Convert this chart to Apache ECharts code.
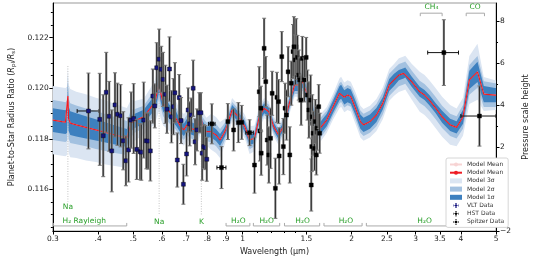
<!DOCTYPE html>
<html><head><meta charset="utf-8">
<script src="https://cdn.jsdelivr.net/npm/echarts@6.0.0/dist/echarts.min.js"></script>
<style>html,body{margin:0;padding:0;background:#fff}#c{width:538px;height:261px}</style>
</head><body><div id="c"></div>
<script>
// ---------- data ----------
const tickValues = [0.3,0.4,0.5,0.6,0.7,0.8,0.9,1,1.5,2,2.5,3,3.5,4,5];
const tickLabels = ['0.3','.4','.5','.6','.7','.8','.9','1','1.5','2','2.5','3','3.5','4','5'];
const minorTickValues = [1.1,1.2,1.3,1.4];
const ratioTicks = [0.116,0.118,0.120,0.122];
const ratioMinorTicks = [0.1145,0.115,0.1155,0.1165,0.117,0.1175,0.1185,0.119,0.1195,0.1205,0.121,0.1215,0.1225,0.123];
const scaleTicks = [-2,0,2,4,6,8];
const scaleMinorTicks = [-1,1,3,5,7];

const modelWave = [0.300,0.318,0.325,0.3285,0.330,0.3315,0.335,0.348,0.370,0.394,
0.419,0.445,0.480,0.493,0.503,0.534,0.557,0.574,0.586,0.589,
0.594,0.604,0.629,0.655,0.675,0.689,0.703,0.718,0.740,0.756,
0.765,0.768,0.774,0.795,0.820,0.845,0.867,0.889,0.898,0.936,
0.974,1.015,1.046,1.079,1.112,1.147,1.182,1.219,1.257,1.296,
1.350,1.392,1.435,1.464,1.510,1.573,1.638,1.706,1.777,1.850,
1.870,1.908,1.948,1.988,2.049,2.113,2.156,2.246,2.340,2.436,
2.538,2.617,2.698,2.781,2.810,2.926,3.080,3.176,3.274,3.409,
3.551,3.736,3.892,4.054,4.221,4.444,4.626,4.968,5.000];
const modelMean = [0.11874,0.11868,0.11866,0.11872,0.11969,0.11880,0.11862,0.11855,0.11845,0.11835,
0.11825,0.11815,0.11803,0.11861,0.11870,0.11887,0.11921,0.11947,0.12006,0.12026,
0.11986,0.11940,0.11907,0.11881,0.11848,0.11835,0.11855,0.11842,0.11835,0.11855,
0.11894,0.11902,0.11848,0.11828,0.11828,0.11815,0.11795,0.11822,0.11835,0.11914,
0.11887,0.11848,0.11795,0.11802,0.11887,0.11921,0.11907,0.11848,0.11815,0.11848,
0.11947,0.12013,0.12013,0.12026,0.11973,0.11887,0.11842,0.11874,0.11927,0.11980,
0.11986,0.11964,0.11973,0.11967,0.11921,0.11868,0.11855,0.11868,0.11894,0.11940,
0.12013,0.12033,0.12052,0.12059,0.12062,0.12026,0.11986,0.11973,0.11953,0.11921,
0.11887,0.11855,0.11845,0.11887,0.12033,0.12065,0.11977,0.11973,0.11973];
const model1Sigma = [0.00047,0.00047,0.00047,0.00048,0.00055,0.00048,0.00047,0.00046,0.00044,0.00042,
0.00040,0.00038,0.00036,0.00032,0.00028,0.00028,0.00028,0.00032,0.00036,0.00040,
0.00036,0.00032,0.00028,0.00028,0.00024,0.00024,0.00024,0.00024,0.00024,0.00024,
0.00028,0.00028,0.00024,0.00020,0.00024,0.00024,0.00024,0.00020,0.00020,0.00020,
0.00020,0.00020,0.00020,0.00020,0.00020,0.00020,0.00016,0.00016,0.00016,0.00016,
0.00020,0.00024,0.00024,0.00024,0.00024,0.00024,0.00024,0.00024,0.00024,0.00028,
0.00028,0.00028,0.00028,0.00028,0.00028,0.00028,0.00028,0.00028,0.00028,0.00024,
0.00024,0.00024,0.00020,0.00020,0.00020,0.00020,0.00020,0.00020,0.00020,0.00020,
0.00024,0.00024,0.00024,0.00028,0.00036,0.00040,0.00032,0.00028,0.00028];
const model2Sigma = [0.00079,0.00079,0.00079,0.00080,0.00087,0.00080,0.00079,0.00077,0.00075,0.00075,
0.00073,0.00071,0.00067,0.00055,0.00047,0.00044,0.00047,0.00051,0.00059,0.00067,
0.00059,0.00051,0.00047,0.00044,0.00040,0.00040,0.00040,0.00040,0.00040,0.00040,
0.00047,0.00047,0.00040,0.00036,0.00044,0.00044,0.00044,0.00036,0.00032,0.00032,
0.00032,0.00032,0.00036,0.00032,0.00032,0.00028,0.00028,0.00028,0.00028,0.00028,
0.00032,0.00036,0.00036,0.00036,0.00036,0.00036,0.00040,0.00036,0.00036,0.00040,
0.00040,0.00040,0.00040,0.00040,0.00044,0.00044,0.00044,0.00044,0.00044,0.00044,
0.00044,0.00044,0.00044,0.00044,0.00044,0.00044,0.00044,0.00044,0.00044,0.00044,
0.00044,0.00044,0.00044,0.00047,0.00059,0.00063,0.00051,0.00047,0.00047];
const model3Sigma = [0.00135,0.00135,0.00135,0.00135,0.00119,0.00135,0.00135,0.00131,0.00131,0.00127,
0.00127,0.00123,0.00119,0.00095,0.00079,0.00071,0.00079,0.00087,0.00103,0.00119,
0.00103,0.00087,0.00075,0.00067,0.00063,0.00063,0.00059,0.00059,0.00059,0.00063,
0.00075,0.00079,0.00063,0.00055,0.00071,0.00071,0.00071,0.00055,0.00047,0.00047,
0.00047,0.00047,0.00055,0.00051,0.00044,0.00040,0.00040,0.00040,0.00040,0.00040,
0.00044,0.00047,0.00047,0.00047,0.00047,0.00051,0.00055,0.00051,0.00051,0.00059,
0.00059,0.00059,0.00059,0.00059,0.00063,0.00063,0.00063,0.00063,0.00063,0.00063,
0.00063,0.00063,0.00067,0.00067,0.00067,0.00071,0.00079,0.00079,0.00079,0.00079,
0.00079,0.00079,0.00075,0.00075,0.00095,0.00111,0.00067,0.00059,0.00059];

const vltWave = [0.376,0.404,0.413,0.421,0.429,0.436,0.445,0.452,0.461,0.469,
0.477,0.485,0.493,0.501,0.511,0.522,0.526,0.534,0.543,0.549,
0.557,0.566,0.573,0.580,0.589,0.597,0.604,0.613,0.619,0.629,
0.637,0.645,0.651,0.661,0.669,0.677,0.687,0.701,0.708,0.715,
0.722,0.731,0.740,0.749,0.760,0.768,0.774,0.782,0.790,0.797];
const vltRatio = [0.11910,0.11877,0.11812,0.11984,0.11889,0.11752,0.11934,0.11897,0.11891,0.11792,
0.11713,0.11756,0.11874,0.11880,0.11758,0.11749,0.11747,0.11874,0.11792,0.11791,
0.11752,0.11969,0.11930,0.12081,0.12115,0.12075,0.12035,0.11976,0.11917,0.12076,
0.11887,0.11927,0.11982,0.11716,0.11963,0.11872,0.11620,0.11740,0.11914,0.11859,
0.11894,0.12000,0.11788,0.11835,0.11903,0.11903,0.11743,0.11769,0.11765,0.11719];
const vltErr = [0.00150,0.00182,0.00162,0.00158,0.00138,0.00162,0.00127,0.00123,0.00123,0.00115,
0.00099,0.00127,0.00111,0.00138,0.00119,0.00111,0.00111,0.00150,0.00111,0.00111,
0.00119,0.00107,0.00087,0.00099,0.00119,0.00091,0.00107,0.00115,0.00095,0.00127,
0.00103,0.00111,0.00119,0.00107,0.00091,0.00091,0.00079,0.00087,0.00087,0.00087,
0.00067,0.00111,0.00091,0.00083,0.00079,0.00079,0.00107,0.00087,0.00087,0.00087];
const vltWaveErr = [0.026,0,0,0,0,0,0,0,0,0, 0,0,0,0,0,0,0,0,0,0, 0,0,0,0,0,0,0,0,0,0,
0,0,0,0,0,0,0,0,0,0, 0,0,0,0,0,0,0,0,0,0];

const hstWave = [0.823,0.875,0.911,0.945,0.974,0.995,1.046,1.079,1.112,1.117,
1.124,1.126,1.147,1.159,1.170,1.182,1.195,1.207,1.232,1.244,
1.257,1.262,1.283,1.296,1.310,1.322,1.336,1.350,1.363,1.378,
1.386,1.399,1.406,1.418,1.429,1.438,1.451,1.462,1.480,1.498,
1.510,1.524,1.541,1.547,1.552,1.557,1.566,1.579,1.588,1.598,
1.605,1.622,1.632];
const hstRatio = [0.11859,0.11686,0.11868,0.11835,0.11864,0.11865,0.11824,0.11696,0.11986,0.11831,
0.11921,0.11743,0.12158,0.12026,0.11795,0.11736,0.11802,0.11980,0.11604,0.11964,
0.11947,0.11732,0.12125,0.11769,0.11921,0.11894,0.12065,0.11736,0.12020,0.12145,
0.12164,0.12112,0.12164,0.12122,0.12052,0.12033,0.11953,0.12118,0.12033,0.12122,
0.11973,0.11914,0.11953,0.11617,0.11769,0.11887,0.11822,0.11762,0.11868,0.11736,
0.11842,0.11927,0.11822];
const hstErr = [0.00079,0.00083,0.00071,0.00083,0.00079,0.00067,0.00051,0.00111,0.00099,0.00119,
0.00087,0.00087,0.00119,0.00099,0.00099,0.00111,0.00119,0.00087,0.00119,0.00099,
0.00087,0.00111,0.00099,0.00111,0.00099,0.00099,0.00099,0.00111,0.00087,0.00107,
0.00119,0.00099,0.00111,0.00087,0.00099,0.00087,0.00099,0.00087,0.00087,0.00079,
0.00099,0.00111,0.00099,0.00103,0.00099,0.00087,0.00087,0.00087,0.00087,0.00079,
0.00087,0.00087,0.00079];
const hstWaveErr = [0.017,0.025,0,0,0,0,0.025,0,0,0, 0,0,0,0,0,0,0,0,0,0, 0,0,0,0,0,0,0,0,0,0,
0,0,0,0,0,0,0,0,0,0, 0,0,0,0,0,0,0,0,0,0, 0,0,0];

const spitzerWave = [3.59, 4.50];
const spitzerRatio = [0.12141, 0.11890];
const spitzerErr = [0.00130, 0.00119];
const spitzerWaveErr = [0.35, 0.50];

const lineFeatures = [ {label:'Na', wave:0.330}, {label:'Na', wave:0.589}, {label:'K', wave:0.770} ];
const bottomBands = [
  {label:'H\u2082 Rayleigh', from:0.300, to:0.481, at:0.366},
  {label:'H\u2082O', from:0.898, to:1.051, at:0.974},
  {label:'H\u2082O', from:1.068, to:1.270, at:1.166},
  {label:'H\u2082O', from:1.301, to:1.637, at:1.464},
  {label:'H\u2082O', from:1.672, to:2.143, at:1.928},
  {label:'H\u2082O', from:2.188, to:4.590, at:3.176}
];
const topBands = [
  {label:'CH\u2084', from:3.091, to:3.551, at:3.32},
  {label:'CO', from:4.137, to:4.646, at:4.38}
];

// ---------- chart ----------
const L = Math.log10;
const FONT = 'DejaVu Sans';
const GREEN = '#2ca02c';
const chart = echarts.init(document.getElementById('c'), null, {renderer:'canvas'});

function bandSeries(name, sig, color) {
  return {
    type:'custom', name, z:1, silent:true, clip:true,
    itemStyle:{color},
    data:[[L(modelWave[0]), modelMean[0]]],
    encode:{x:0,y:1},
    renderItem(params, api){
      const pts=[];
      for (let i=0;i<modelWave.length;i++) pts.push(api.coord([L(modelWave[i]), modelMean[i]+sig[i]]));
      for (let i=modelWave.length-1;i>=0;i--) pts.push(api.coord([L(modelWave[i]), modelMean[i]-sig[i]]));
      return {type:'polygon', shape:{points:pts}, style:{fill:color}};
    }
  };
}

function seg(x1,y1,x2,y2,stroke,w,dash){
  return {type:'line', shape:{x1,y1,x2,y2}, style:{stroke, lineWidth:w, lineDash:dash||null}};
}

function errSeries(name, waves, ratios, errs, werrs, color, barGray) {
  return {
    type:'custom', name, z:5, clip:true, silent:true,
    itemStyle:{color},
    data: waves.map((w,i)=>[L(w), ratios[i], errs[i], L(w-werrs[i]), L(w+werrs[i])]),
    encode:{x:0,y:1},
    renderItem(params, api){
      const x=api.value(0), y=api.value(1), e=api.value(2), xl=api.value(3), xh=api.value(4);
      const p=api.coord([x,y]), t=api.coord([x,y+e]), b=api.coord([x,y-e]);
      const ch=[];
      ch.push(seg(p[0],t[1],p[0],b[1],barGray,2.2));
      ch.push(seg(p[0],t[1],p[0],b[1],'#111',0.8));
      ch.push(seg(p[0]-2,t[1],p[0]+2,t[1],'#777',1));
      ch.push(seg(p[0]-2,b[1],p[0]+2,b[1],'#777',1));
      if (xh-xl>1e-9){
        const a=api.coord([xl,y]), c=api.coord([xh,y]);
        ch.push(seg(a[0],p[1],c[0],p[1],'#111',1));
        ch.push(seg(a[0],p[1]-2,a[0],p[1]+2,'#111',1));
        ch.push(seg(c[0],p[1]-2,c[0],p[1]+2,'#111',1));
      }
      ch.push({type:'rect', shape:{x:p[0]-2,y:p[1]-2,width:4,height:4}, style:{fill:color, stroke:'#000', lineWidth:0.4}});
      return {type:'group', children:ch};
    }
  };
}

const annotSeries = {
  type:'custom', name:'annot', z:2, silent:true, clip:false,
  data:[[L(0.3), 0.118]], encode:{x:0,y:1},
  renderItem(params, api){
    const ch=[];
    const lineTop = [0.12088, 0.12080, 0.11920];
    const lineBot = [0.11551, 0.11498, 0.11498];
    const labY = [0.11528, 0.11470, 0.11470];
    lineFeatures.forEach((f,i)=>{
      const a=api.coord([L(f.wave), lineTop[i]]), b=api.coord([L(f.wave), lineBot[i]]);
      ch.push(seg(a[0],a[1],b[0],b[1],'#c4c4c4',1,[1,1.5]));
      const q=api.coord([L(f.wave), labY[i]]);
      ch.push({type:'text', x:q[0], y:q[1], style:{text:f.label, fill:GREEN, fontSize:7.5, fontFamily:FONT, align:'center', verticalAlign:'middle'}});
    });
    bottomBands.forEach(bd=>{
      const a=api.coord([L(bd.from), 0.11455]), b=api.coord([L(bd.to), 0.11455]);
      ch.push(seg(a[0]+0.5,a[1],b[0]-0.5,b[1],'#aaa',1));
      ch.push(seg(a[0]+0.5,a[1],a[0]+0.5,a[1]-3,'#aaa',1));
      ch.push(seg(b[0]-0.5,b[1],b[0]-0.5,b[1]-3,'#aaa',1));
      const q=api.coord([L(bd.at), 0.11476]);
      ch.push({type:'text', x:q[0], y:q[1], style:{text:bd.label, fill:GREEN, fontSize:7.5, fontFamily:FONT, align:'center', verticalAlign:'middle'}});
    });
    topBands.forEach(bd=>{
      const a=api.coord([L(bd.from), 0.12297]), b=api.coord([L(bd.to), 0.12297]);
      ch.push(seg(a[0],a[1],b[0],b[1],'#aaa',1));
      ch.push(seg(a[0],a[1],a[0],a[1]+3,'#aaa',1));
      ch.push(seg(b[0],b[1],b[0],b[1]+3,'#aaa',1));
      const q=api.coord([L(bd.at), 0.12321]);
      ch.push({type:'text', x:q[0], y:q[1], style:{text:bd.label, fill:GREEN, fontSize:7.5, fontFamily:FONT, align:'center', verticalAlign:'middle'}});
    });
    return {type:'group', children:ch};
  }
};

const meanData = modelWave.map((w,i)=>[L(w), modelMean[i]]);
const ebIcon = 'path://M4.5,0h1v10h-1zM0,4.5h10v1h-10zM3,0h4v1h-4zM3,9h4v1h-4zM0,3h1v4h-1zM9,3h1v4h-1zM3,3h4v4h-4z';

const labelStyle = {fontSize:7.5, fontFamily:FONT, color:'#222'};
const option = {
  animation:false,
  backgroundColor:'#fff',
  grid:{left:45.5, right:32, top:3, bottom:30, show:true, borderColor:'#999', borderWidth:1, backgroundColor:'transparent'},
  xAxis:[{
    type:'value', min:L(0.3), max:L(5), position:'bottom',
    name:'Wavelength (\u03bcm)', nameLocation:'middle', nameGap:17,
    nameTextStyle:{fontSize:8, fontFamily:FONT, color:'#222'},
    axisLine:{onZero:false, lineStyle:{color:'#000', width:1}},
    axisTick:{customValues:tickValues.map(L), length:3.5, lineStyle:{color:'#000'}},
    axisLabel:{customValues:tickValues.map(L), margin:4, ...labelStyle,
      formatter:v=>{for(let i=0;i<tickValues.length;i++) if(Math.abs(L(tickValues[i])-v)<1e-6) return tickLabels[i]; return '';}},
    splitLine:{show:false}
  },{
    type:'value', min:L(0.3), max:L(5), position:'bottom',
    axisLine:{show:false, onZero:false}, axisLabel:{show:false}, splitLine:{show:false},
    axisTick:{customValues:minorTickValues.map(L), length:2, lineStyle:{color:'#000'}}
  }],
  yAxis:[{
    type:'value', min:0.11435, max:0.123373, position:'left',
    name:'Planet-to-Star Radius Ratio ({i|R}{s|pl}/{i|R}{s|s})', nameLocation:'middle', nameGap:30, nameRotate:90,
    nameTextStyle:{fontSize:8, fontFamily:FONT, color:'#222',
      rich:{i:{fontSize:8, fontFamily:FONT, fontStyle:'italic', color:'#222'},
            s:{fontSize:5.5, fontFamily:FONT, color:'#222', verticalAlign:'bottom', padding:[3,0,0,0]}}},
    axisLine:{show:true, onZero:false, lineStyle:{color:'#000'}},
    axisTick:{show:true, customValues:ratioTicks, length:3.5, lineStyle:{color:'#000'}},
    axisLabel:{customValues:ratioTicks, margin:4, ...labelStyle, formatter:v=>v.toFixed(3)},
    splitLine:{show:false}
  },{
    type:'value', min:0.11435, max:0.123373, position:'left',
    axisLine:{show:false, onZero:false}, axisLabel:{show:false}, splitLine:{show:false},
    axisTick:{show:true, customValues:ratioMinorTicks, length:2, lineStyle:{color:'#000'}}
  },{
    type:'value', min:-2, max:8.857, position:'right',
    name:'Pressure scale height', nameLocation:'middle', nameGap:18, nameRotate:90,
    nameTextStyle:{fontSize:8, fontFamily:FONT, color:'#222'},
    axisLine:{show:true, onZero:false, lineStyle:{color:'#000'}},
    axisTick:{show:true, customValues:scaleTicks, length:3.5, lineStyle:{color:'#000'}},
    axisLabel:{customValues:scaleTicks, margin:4, ...labelStyle, formatter:v=>v<0?'\u2212'+(-v):String(v)},
    splitLine:{show:false}
  },{
    type:'value', min:-2, max:8.857, position:'right',
    axisLine:{show:false, onZero:false}, axisLabel:{show:false}, splitLine:{show:false},
    axisTick:{show:true, customValues:scaleMinorTicks, length:2, lineStyle:{color:'#000'}}
  }],
  legend:{
    left:446, top:158, orient:'vertical',
    backgroundColor:'#fff', borderColor:'#ccc', borderWidth:0.8, borderRadius:2,
    padding:[3,4,2,3], itemGap:1.2, itemWidth:12, itemHeight:5,
    textStyle:{fontSize:6, fontFamily:FONT, color:'#333', lineHeight:7},
    formatter:n=>n.trim(),
    data:[
      {name:'Model Mean '},
      {name:'Model Mean'},
      {name:'Model 3\u03c3', icon:'rect'},
      {name:'Model 2\u03c3', icon:'rect'},
      {name:'Model 1\u03c3', icon:'rect'},
      {name:'VLT Data', icon:ebIcon},
      {name:'HST Data', icon:ebIcon},
      {name:'Spitzer Data', icon:ebIcon}
    ]
  },
  series:[
    bandSeries('Model 3\u03c3', model3Sigma, '#dbe5f2'),
    bandSeries('Model 2\u03c3', model2Sigma, '#a3c1e0'),
    bandSeries('Model 1\u03c3', model1Sigma, '#3d80bf'),
    annotSeries,
    {type:'line', name:'Model Mean ', data:meanData, symbol:'none', z:3, silent:true,
      lineStyle:{color:'#f7d4d4', width:1}, itemStyle:{color:'#f7d4d4'}},
    {type:'line', name:'Model Mean', data:meanData, symbol:'none', z:3, silent:true,
      lineStyle:{color:'#ee1c24', width:1.2}, itemStyle:{color:'#ee1c24'}},
    errSeries('VLT Data', vltWave, vltRatio, vltErr, vltWaveErr, '#14147e', '#8a8a8a'),
    errSeries('HST Data', hstWave, hstRatio, hstErr, hstWaveErr, '#000000', '#8a8a8a'),
    errSeries('Spitzer Data', spitzerWave, spitzerRatio, spitzerErr, spitzerWaveErr, '#000000', '#8a8a8a')
  ]
};
chart.setOption(option);
</script></body></html>
